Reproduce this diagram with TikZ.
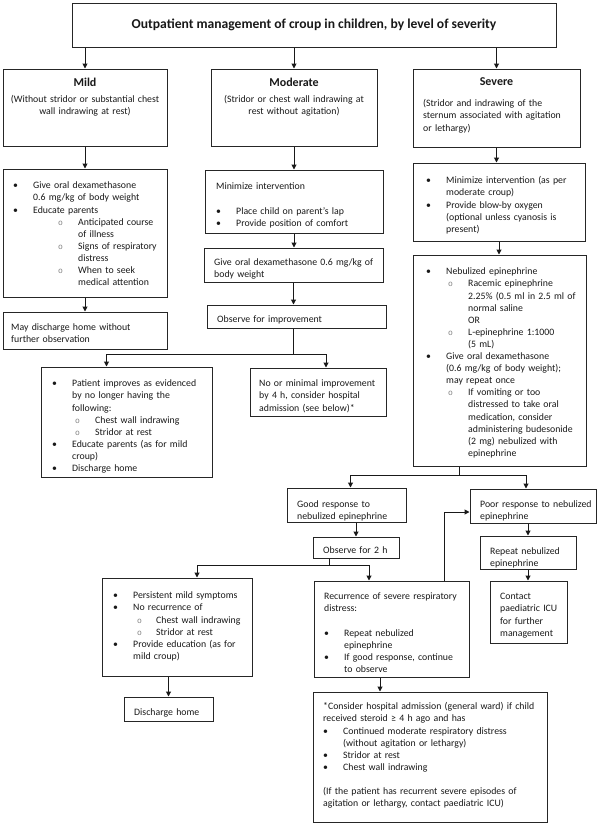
\documentclass[tikz,border=0pt]{standalone}
\usepackage{fontspec}
\setmainfont{Carlito}
\newfontfamily\monof{Liberation Mono}
\usetikzlibrary{arrows.meta,fit,calc}
\newcommand\subb{{\color{black!50}\monof\fontsize{8}{8}\selectfont o}}
\newcommand\bl[1]{\par\noindent\hangindent=20pt\hangafter=1\strut\makebox[20pt][l]{\textbullet}#1\par}
\newcommand\sbl[3]{\par\noindent\hangindent=#2\hangafter=1\strut\hspace*{#1}\makebox[\dimexpr#2-#1\relax][l]{\subb}#3\par}
\newcommand\pl[1]{\par\noindent\strut#1\par}
\newcommand\nl{\newline}
\tikzset{
  bx/.style={draw=black!85, line width=1pt, inner sep=0pt},
  tx/.style={anchor=north west, inner sep=0pt, text width=230pt,
             font=\fontsize{9.8}{12.1}\selectfont, text=black!90},
  hd/.style={inner sep=0pt, font=\bfseries\fontsize{12}{14}\selectfont, text=black!90},
  st/.style={anchor=north, inner sep=0pt, align=center,
             font=\fontsize{9.8}{12.1}\selectfont, text=black!90},
  arr/.style={draw=black!90, line width=1pt, -{Triangle[length=5pt,width=5pt]}},
  ln/.style={draw=black!90, line width=1pt}
}
\begin{document}
\begin{tikzpicture}[x=1pt,y=-1pt]
\useasboundingbox (0,0) rectangle (600,825);
\fill[white] (0,0) rectangle (600,825);

% ---- boxes ----
\node[bx, fit={(72,3)(556,47)}] (title) {};
\node[bx, fit={(3,69)(167,146)}] (mild) {};
\node[bx, fit={(211,69)(377,146)}] (mod) {};
\node[bx, fit={(413,69)(580,147)}] (sev) {};
\node[bx, fit={(3,169)(167,297)}] (mildlist) {};
\node[bx, fit={(3,312)(167,349)}] (mild2) {};
\node[bx, fit={(205,170)(383,233)}] (mod1) {};
\node[bx, fit={(204,248)(383,282)}] (mod2) {};
\node[bx, fit={(207,305)(386,328)}] (mod3) {};
\node[bx, fit={(413,163)(585,241)}] (sev1) {};
\node[bx, fit={(413,255)(586,466)}] (sev2) {};
\node[bx, fit={(41,367)(212,477)}] (imp) {};
\node[bx, fit={(250,368)(386,416)}] (nomin) {};
\node[bx, fit={(287,488)(406,522)}] (good) {};
\node[bx, fit={(470,489)(596,523)}] (poor) {};
\node[bx, fit={(313,537)(399,558)}] (obs2) {};
\node[bx, fit={(480,536)(576,569)}] (rep) {};
\node[bx, fit={(490,581)(567,643)}] (contact) {};
\node[bx, fit={(102,578)(252,676)}] (pers) {};
\node[bx, fit={(314,581)(469,677)}] (recur) {};
\node[bx, fit={(124,697)(213,721)}] (disch) {};
\node[bx, fit={(313,692)(547,822)}] (consider) {};

% ---- texts ----
\node[hd, font=\bfseries\fontsize{13.6}{16}\selectfont] (title-t) at (title.center) {Outpatient management of croup in children, by level of severity};

\node[hd] (mild-h) at (85,82) {Mild};
\node[st, text width=164pt] (mild-t) at (85,93.5) {\strut(Without stridor or substantial chest\\wall indrawing at rest)};
\node[hd] (mod-h) at (294,82) {Moderate};
\node[st, text width=166pt] (mod-t) at (294,93.5) {\strut(Stridor or chest wall indrawing at\\rest without agitation)};
\node[hd] (sev-h) at (496.5,82) {Severe};
\node[tx] (sev-t) at (423,94.5) {\pl{(Stridor and indrawing of the}\pl{sternum associated with agitation}\pl{or lethargy)}};

\node[tx] (mildlist-t) at (13,176.5) {%
\bl{Give oral dexamethasone\nl 0.6 mg/kg of body weight}
\bl{Educate parents}
\sbl{45pt}{65pt}{Anticipated course\nl of illness}
\sbl{45pt}{65pt}{Signs of respiratory\nl distress}
\sbl{45pt}{65pt}{When to seek\nl medical attention}};

\node[tx] (mild2-t) at (11,318.5) {\pl{May discharge home without}\pl{further observation}};

\node[tx] (mod1-t) at (216,177.5) {%
\pl{Minimize intervention}\pl{}
\bl{Place child on parent’s lap}
\bl{Provide position of comfort}};

\node[tx] (mod2-t) at (214,253.5) {\pl{Give oral dexamethasone 0.6 mg/kg of}\pl{body weight}};
\node[tx] (mod3-t) at (217,310.5) {\pl{Observe for improvement}};

\node[tx] (sev1-t) at (426,171.5) {%
\bl{Minimize intervention (as per\nl moderate croup)}
\bl{Provide blow-by oxygen\nl (optional unless cyanosis is\nl present)}};

\node[tx] (sev2-t) at (426,262.5) {%
\bl{Nebulized epinephrine}
\sbl{22pt}{42pt}{Racemic epinephrine\nl 2.25\% (0.5 ml in 2.5 ml of\nl normal saline\nl OR}
\sbl{22pt}{42pt}{L-epinephrine 1:1000\nl (5 mL)}
\bl{Give oral dexamethasone\nl (0.6 mg/kg of body weight);\nl may repeat once}
\sbl{22pt}{42pt}{If vomiting or too\nl distressed to take oral\nl medication, consider\nl administering budesonide\nl (2 mg) nebulized with\nl epinephrine}};

\node[tx] (imp-t) at (52,374.5) {%
\bl{Patient improves as evidenced\nl by no longer having the\nl following:}
\sbl{23pt}{43pt}{Chest wall indrawing}
\sbl{23pt}{43pt}{Stridor at rest}
\bl{Educate parents (as for mild\nl croup)}
\bl{Discharge home}};

\node[tx] (nomin-t) at (259,374.5) {\pl{No or minimal improvement}\pl{by 4 h, consider hospital}\pl{admission (see below)*}};

\node[tx] (good-t) at (297,495.5) {\pl{Good response to}\pl{nebulized epinephrine}};
\node[tx] (poor-t) at (480,495.5) {\pl{Poor response to nebulized}\pl{epinephrine}};
\node[tx] (obs2-t) at (323,541.5) {\pl{Observe for 2 h}};
\node[tx] (rep-t) at (490,542.5) {\pl{Repeat nebulized}\pl{epinephrine}};
\node[tx] (contact-t) at (500,587.5) {\pl{Contact}\pl{paediatric ICU}\pl{for further}\pl{management}};

\node[tx] (pers-t) at (113,586.5) {%
\bl{Persistent mild symptoms}
\bl{No recurrence of}
\sbl{24pt}{43pt}{Chest wall indrawing}
\sbl{24pt}{43pt}{Stridor at rest}
\bl{Provide education (as for\nl mild croup)}};

\node[tx] (recur-t) at (324,587.5) {%
\pl{Recurrence of severe respiratory}\pl{distress:}\pl{}
\bl{Repeat nebulized\nl epinephrine}
\bl{If good response, continue\nl to observe}};

\node[tx] (disch-t) at (134,703.5) {\pl{Discharge home}};

\node[tx] (consider-t) at (323,697.5) {%
\pl{*Consider hospital admission (general ward) if child}
\pl{received steroid ≥ 4 h ago and has}
\bl{Continued moderate respiratory distress\nl (without agitation or lethargy)}
\bl{Stridor at rest}
\bl{Chest wall indrawing}
\pl{}
\pl{(If the patient has recurrent severe episodes of}
\pl{agitation or lethargy, contact paediatric ICU)}};

% ---- connectors ----
\draw[arr] (title.south -| mild.north) -- (mild.north);
\draw[arr] (title.south -| mod.north) -- (mod.north);
\draw[arr] (title.south -| sev.north) -- (sev.north);
\draw[arr] (mild.south) -- (mildlist.north);
\draw[arr] (mildlist.south) -- (mild2.north);
\draw[arr] (mod.south) -- (mod.south |- mod1.north);
\draw[arr] (mod1.south) -- (mod1.south |- mod2.north);
\draw[arr] (mod2.south) -- (mod2.south |- mod3.north);
\coordinate (s1) at ($(mod3.south)+(-3.5,26)$);
\draw[ln] ([xshift=-3.5pt]mod3.south) -- (s1);
\draw[arr] (s1) -| ([xshift=-20pt]imp.north);
\draw[arr] (s1) -| ([xshift=8pt]nomin.north);
\draw[arr] (sev.south) -- (sev.south |- sev1.north);
\draw[arr] (sev1.south) -- (sev1.south |- sev2.north);
\coordinate (s2) at ($(sev2.south)+(-40,9)$);
\draw[ln] ([xshift=-40pt]sev2.south) -- (s2);
\draw[arr] (s2) -| ([xshift=4pt]good.north);
\draw[arr] (s2) -| ([xshift=-7pt]poor.north);
\draw[arr] (obs2.north |- good.south) -- (obs2.north);
\coordinate (s3) at ($(obs2.south)+(-27,7)$);
\draw[ln] ([xshift=-27pt]obs2.south) -- (s3);
\draw[arr] (s3) -| ([xshift=20pt]pers.north);
\draw[arr] (s3) -| ([xshift=-22.5pt]recur.north);
\draw[arr] (disch.north |- pers.south) -- (disch.north);
\draw[arr] ([xshift=-11.5pt]recur.south) -- ([xshift=-11.5pt]recur.south |- consider.north);
\draw[arr] ([xshift=52.5pt]recur.north) |- ([yshift=-6pt]poor.west);
\draw[arr] (rep.north |- poor.south) -- (rep.north);
\draw[arr] (rep.south) -- (rep.south |- contact.north);
\end{tikzpicture}
\end{document}
